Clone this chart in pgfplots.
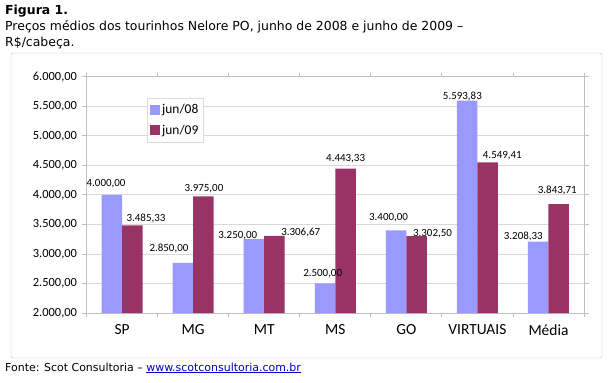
\documentclass[border=0pt]{standalone}
\usepackage{pgfplots}
\pgfplotsset{compat=1.18}
\usepackage{fontspec}
\setmainfont{DejaVu Sans}
\newfontfamily\carlito{Carlito}
\definecolor{c08}{HTML}{9999FF}
\definecolor{c09}{HTML}{993366}
\definecolor{gridc}{HTML}{D9D9D9}
\definecolor{axc}{HTML}{BFBFBF}
\definecolor{linkc}{HTML}{0000CC}
\begin{document}
\begin{tikzpicture}[x=1bp,y=1bp]
\path[use as bounding box] (0,0) rectangle (608,382);
\draw[axc, rounded corners=2bp] (11,24) rectangle (602,329);
\node[anchor=base west, inner sep=0pt, font=\fontsize{12.5}{15}\selectfont\bfseries] at (5,368) {Figura 1.};
\node[anchor=base west, inner sep=0pt, font=\fontsize{12.5}{15}\selectfont] at (5,352) {Preços médios dos tourinhos Nelore PO, junho de 2008 e junho de 2009 –};
\node[anchor=base west, inner sep=0pt, font=\fontsize{12.5}{15}\selectfont] at (5,336) {R\$/cabeça.};
\node[anchor=base west, inner sep=0pt, font=\fontsize{11}{13}\selectfont] at (5,11) {Fonte: Scot Consultoria – {\color{linkc}\underline{www.scotconsultoria.com.br}}};
\begin{axis}[
  at={(86.5bp,69bp)}, anchor=south west,
  scale only axis, width=497.5bp, height=236.3bp,
  ybar=0pt, bar width=20.5bp,
  xmin=-0.5, xmax=6.5, ymin=2000, ymax=6000,
  ytick={2000,2500,...,6000},
  ymajorgrids, grid style={gridc, line width=0.8bp},
  axis line style={axc, line width=0.8bp},
  every tick/.style={axc, line width=0.8bp},
  tick align=outside,
  xtick={0,...,6}, xticklabels={SP,MG,MT,MS,GO,VIRTUAIS,Média},
  x tick style={draw=none},
  extra x ticks={-0.5,0.5,...,6.5}, extra x tick labels={},
  extra x tick style={grid=none, major tick length=4bp, x tick style={draw=axc}},
  major tick length=5bp,
  /pgf/number format/assume math mode=true,
  yticklabel style={font=\carlito\fontsize{12.5}{14}\selectfont, xshift=-1bp,
    /pgf/number format/.cd, fixed, fixed zerofill, precision=2, use comma, 1000 sep={.}},
  xticklabel style={font=\carlito\fontsize{15.5}{17}\selectfont, yshift=-3bp},
  legend style={at={(0.1216,0.91)}, anchor=north west, draw=gridc,
    font=\carlito\fontsize{13.5}{15}\selectfont, row sep=6bp, inner xsep=3bp, inner ysep=4bp},
  legend cell align=left,
  legend image code/.code={\fill[#1, draw=none] (0bp,-5bp) rectangle (10bp,5bp);},
]
\addplot[fill=c08, draw=none] coordinates {(0,4000) (1,2850) (2,3250) (3,2500) (4,3400) (5,5593.83) (6,3208.33)};
\addplot[fill=c09, draw=none] coordinates {(0,3485.33) (1,3975) (2,3306.67) (3,4443.33) (4,3302.5) (5,4549.41) (6,3843.71)};
\legend{jun/08, jun/09}
\begin{scope}[every node/.style={font=\carlito\fontsize{11}{13}\selectfont, inner sep=0pt}]
\node at (axis cs:-0.225,4191) {4.000,00};
\node at (axis cs:0.337,3601) {3.485,33};
\node at (axis cs:0.660,3096) {2.850,00};
\node at (axis cs:1.152,4107) {3.975,00};
\node at (axis cs:1.629,3315) {3.250,00};
\node at (axis cs:2.514,3365) {3.306,67};
\node at (axis cs:2.823,2674) {2.500,00};
\node at (axis cs:3.146,4613) {4.443,33};
\node at (axis cs:3.750,3618) {3.400,00};
\node at (axis cs:4.368,3348) {3.302,50};
\node at (axis cs:4.789,5674) {5.593,83};
\node at (axis cs:5.351,4663) {4.549,41};
\node at (axis cs:5.646,3298) {3.208,33};
\node at (axis cs:6.124,4073) {3.843,71};
\end{scope}
\end{axis}
\end{tikzpicture}
\end{document}
